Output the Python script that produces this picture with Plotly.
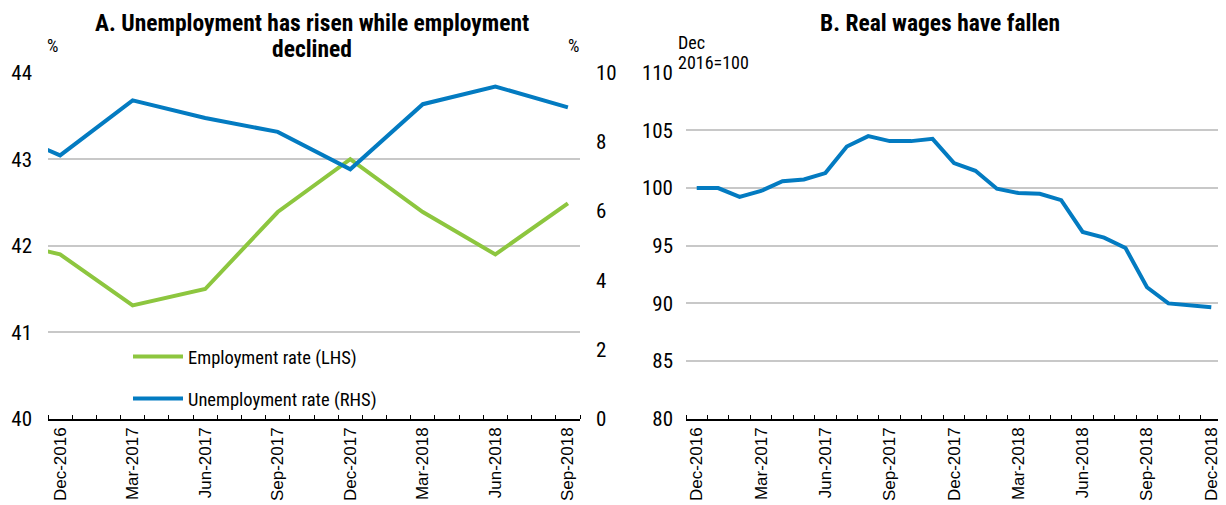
import plotly.graph_objects as go

# Panel A: quarterly points on a monthly axis (index 0 = Dec-2016)
a_months = ["Dec-2016", "Jan-2017", "Feb-2017", "Mar-2017", "Apr-2017", "May-2017",
            "Jun-2017", "Jul-2017", "Aug-2017", "Sep-2017", "Oct-2017", "Nov-2017",
            "Dec-2017", "Jan-2018", "Feb-2018", "Mar-2018", "Apr-2018", "May-2018",
            "Jun-2018", "Jul-2018", "Aug-2018", "Sep-2018"]
a_idx = [-3, 0, 3, 6, 9, 12, 15, 18, 21]   # Sep-2016 .. Sep-2018
employment = [42.1, 41.90, 41.31, 41.50, 42.39, 43.00, 42.39, 41.90, 42.49]
unemployment = [8.53, 7.61, 9.20, 8.69, 8.29, 7.21, 9.09, 9.60, 9.00]

# Panel B: monthly real wage index, Dec 2016 = 100
b_months = ["Dec-2016", "Jan-2017", "Feb-2017", "Mar-2017", "Apr-2017", "May-2017",
            "Jun-2017", "Jul-2017", "Aug-2017", "Sep-2017", "Oct-2017", "Nov-2017",
            "Dec-2017", "Jan-2018", "Feb-2018", "Mar-2018", "Apr-2018", "May-2018",
            "Jun-2018", "Jul-2018", "Aug-2018", "Sep-2018", "Oct-2018", "Nov-2018",
            "Dec-2018"]
real_wages = [100.0, 100.0, 99.23, 99.75, 100.6, 100.74, 101.3, 103.6, 104.5,
              104.07, 104.07, 104.27, 102.17, 101.5, 99.94, 99.57, 99.5, 98.95,
              96.2, 95.7, 94.8, 91.4, 90.0, 89.8, 89.66]

GREEN = "#8DC63F"
BLUE = "#037BC1"
GRID = "#C8C8C8"
NARROW = "Roboto Condensed, Liberation Sans Narrow, Arial Narrow, sans-serif"
REGULAR = "Liberation Sans, Arial, sans-serif"

# screen positions measured on the reference, mapped into figure coordinates
W, H = 1218, 497
def px(x):
    return (x - 8) / W
def py(y):
    return 1 - ((y - 19) / 0.957) / H

fig = go.Figure()

fig.add_trace(go.Scatter(x=a_idx, y=employment, mode="lines", name="Employment rate (LHS)",
                         line=dict(color=GREEN, width=4), xaxis="x", yaxis="y",
                         legendgroup="emp"))
fig.add_trace(go.Scatter(x=a_idx, y=unemployment, mode="lines", name="Unemployment rate (RHS)",
                         line=dict(color=BLUE, width=4), xaxis="x", yaxis="y2",
                         legendgroup="unemp"))
fig.add_trace(go.Scatter(x=list(range(len(b_months))), y=real_wages, mode="lines",
                         line=dict(color=BLUE, width=4), xaxis="x2", yaxis="y3",
                         showlegend=False))

dom_a = [px(48), px(580)]
dom_b = [px(686), px(1222)]
dom_y = [py(420), py(72)]

def month_axis(labels, domain, anchor):
    # month boundaries carry the small ticks, labels sit at quarterly months
    n = len(labels)
    return dict(
        domain=domain, anchor=anchor, range=[-0.5, n - 0.5],
        tickmode="array", tickvals=list(range(0, n, 3)),
        ticktext=[labels[i] for i in range(0, n, 3)],
        tickangle=-90, ticks="", showgrid=False, zeroline=False,
        showline=True, linecolor="black", linewidth=1.5,
        tickfont=dict(size=17, color="black", family=REGULAR),
        minor=dict(tickmode="array", tickvals=[i - 0.5 for i in range(n + 1)],
                   ticks="inside", ticklen=4, tickcolor="black", tickwidth=1.2,
                   showgrid=False),
    )

def big_ticks(n, domain, anchor, overlay):
    return dict(domain=domain, anchor=anchor, overlaying=overlay, range=[-0.5, n - 0.5],
                tickmode="array", tickvals=[i - 0.5 for i in range(0, n + 1, 3)],
                showticklabels=False, ticks="inside", ticklen=8, tickcolor="black",
                tickwidth=1.2, showgrid=False, zeroline=False, showline=False)

ytick = dict(size=21, color="black", family=NARROW)

fig.update_layout(
    width=W, height=H,
    margin=dict(l=0, r=0, t=0, b=0),
    paper_bgcolor="white", plot_bgcolor="white",
    font=dict(family=NARROW, color="black"),
    xaxis=month_axis(a_months, dom_a, "y"),
    xaxis2=month_axis(b_months, dom_b, "y3"),
    xaxis3=big_ticks(len(a_months), dom_a, "y", "x"),
    xaxis4=big_ticks(len(b_months), dom_b, "y3", "x2"),
    yaxis=dict(domain=dom_y, anchor="x", range=[40, 44], dtick=1, showgrid=True,
               gridcolor=GRID, gridwidth=1.5, zeroline=False, ticks="",
               tickfont=ytick, ticklabelstandoff=15),
    yaxis2=dict(domain=dom_y, anchor="x", overlaying="y", side="right", range=[0, 10],
                dtick=2, showgrid=False, zeroline=False, ticks="",
                tickfont=ytick, ticklabelstandoff=15),
    yaxis3=dict(domain=dom_y, anchor="x2", range=[80, 110], dtick=5, showgrid=True,
                gridcolor=GRID, gridwidth=1.5, zeroline=False, ticks="",
                tickfont=ytick, ticklabelstandoff=12),
    legend=dict(x=px(128), y=1 - 334 / H, xanchor="left", yanchor="top",
                bgcolor="rgba(0,0,0,0)", font=dict(size=18.5, color="black", family=NARROW),
                tracegroupgap=15, itemwidth=50),
    showlegend=True,
)

texts = [
    ("<b>A. Unemployment has risen while employment</b>", 312, 22, "center", 23.5),
    ("<b>declined</b>", 312, 48, "center", 23.5),
    ("<b>B. Real wages have fallen</b>", 940, 22, "center", 23.5),
    ("%", 52, 45, "center", 18),
    ("%", 573, 45, "center", 18),
    ("Dec", 676, 42, "left", 18),
    ("2016=100", 676, 62, "left", 18),
]
for txt, x, y, anchor, size in texts:
    fig.add_annotation(text=txt, x=px(x), y=py(y), xref="paper", yref="paper",
                       xanchor=anchor, yanchor="middle", showarrow=False,
                       font=dict(size=size, family=NARROW, color="black"))

fig.write_html("out.html")
